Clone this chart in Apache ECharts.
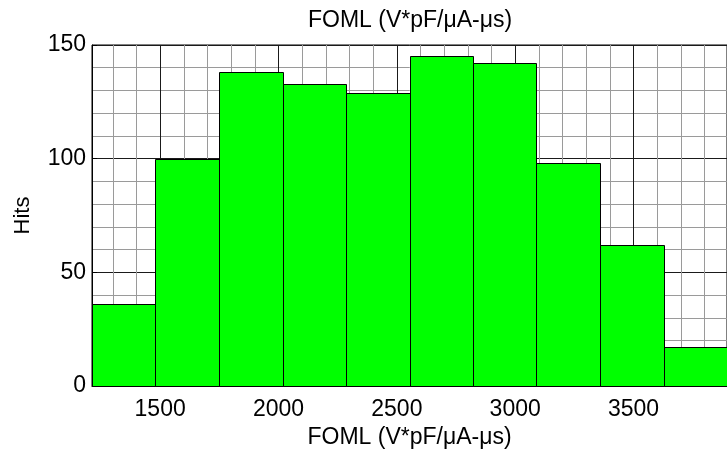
<!DOCTYPE html>
<html>
<head>
<meta charset="utf-8">
<script src="https://cdn.jsdelivr.net/npm/echarts@6/dist/echarts.min.js"></script>
<style>
  html, body { margin: 0; padding: 0; background: #fff; }
  #chart { width: 727px; height: 454px; }
</style>
</head>
<body>
<div id="chart"></div>
<script>
// Histogram bins: lower/upper edges and hit counts
const binEdges = [1212, 1480, 1749, 2017, 2285, 2554, 2822, 3090, 3358, 3627, 3895];
const hits = [36, 100, 138, 133, 129, 145, 142, 98, 62, 17];

// Axis ticks and grid positions
const xTickLabels = [1500, 2000, 2500, 3000, 3500];
const xMinorGrid = [1300, 1400, 1600, 1700, 1800, 1900, 2100, 2200, 2300, 2400,
                    2600, 2700, 2800, 2900, 3100, 3200, 3300, 3400, 3600, 3700, 3800];
const yTickLabels = [0, 50, 100, 150];

const axisTitle = 'FOML (V*pF/\u03bcA-\u03bcs)';
const FONT = 'Liberation Sans, Arial, sans-serif';

const binData = hits.map((h, i) => [binEdges[i], binEdges[i + 1], h]);

const gridLines = []
  .concat(xMinorGrid.map(v => ({ xAxis: v, lineStyle: { color: '#9a9a9a', width: 1, type: 'solid' } })))
  .concat(xTickLabels.map(v => ({ xAxis: v, lineStyle: { color: '#1a1a1a', width: 1, type: 'solid' } })));

const chart = echarts.init(document.getElementById('chart'), null, { renderer: 'canvas' });

chart.setOption({
  animation: false,
  backgroundColor: '#ffffff',
  graphic: [{
    type: 'text',
    x: 410, y: 21,
    style: {
      text: axisTitle, align: 'center', verticalAlign: 'middle',
      font: '23px ' + FONT, fill: '#000'
    }
  }],
  grid: {
    left: 92, top: 45, width: 641, height: 343,
    show: true, backgroundColor: '#fff', borderColor: '#000', borderWidth: 1
  },
  xAxis: {
    type: 'value',
    min: binEdges[0],
    max: binEdges[binEdges.length - 1],
    name: axisTitle,
    nameLocation: 'middle',
    nameGap: 38,
    nameTextStyle: { fontSize: 23, fontFamily: FONT, color: '#000' },
    axisLine: { show: true, onZero: false, lineStyle: { color: '#000', width: 1 } },
    axisTick: { show: true, inside: true, length: 4, customValues: xTickLabels, lineStyle: { color: '#000' } },
    axisLabel: {
      customValues: xTickLabels, margin: 12,
      formatter: v => String(v),
      fontSize: 23, fontFamily: FONT, color: '#000'
    },
    splitLine: { show: false }
  },
  yAxis: {
    type: 'value',
    min: 0, max: 150, interval: 50,
    name: 'Hits',
    nameLocation: 'middle',
    nameRotate: 90,
    nameGap: 58,
    nameTextStyle: { fontSize: 22, fontFamily: FONT, color: '#000' },
    axisLine: { show: true, lineStyle: { color: '#000', width: 1 } },
    axisTick: { show: true, inside: true, length: 5, lineStyle: { color: '#000' } },
    axisLabel: {
      margin: 6, fontSize: 23, fontFamily: FONT, color: '#000',
      formatter: v => (yTickLabels.indexOf(v) >= 0 ? String(v) : '')
    },
    splitLine: { show: true, lineStyle: { color: '#1a1a1a', width: 1 } },
    minorTick: { show: false, splitNumber: 5 },
    minorSplitLine: { show: true, lineStyle: { color: '#9a9a9a', width: 1 } }
  },
  series: [{
    type: 'custom',
    name: 'Hits',
    z: 3,
    data: binData,
    encode: { x: [0, 1], y: 2 },
    renderItem: function (params, api) {
      const p0 = api.coord([api.value(0), api.value(2)]);
      const p1 = api.coord([api.value(1), 0]);
      const x = Math.round(p0[0]) + 0.5;
      const y = Math.round(p0[1]) + 0.5;
      const w = Math.round(p1[0]) - Math.round(p0[0]);
      const h = Math.round(p1[1]) - Math.round(p0[1]);
      return {
        type: 'rect',
        shape: { x: x, y: y, width: w, height: h },
        style: { fill: '#00ff00', stroke: '#000', lineWidth: 1 }
      };
    },
    markLine: {
      silent: true,
      z: 1,
      symbol: ['none', 'none'],
      label: { show: false },
      emphasis: { disabled: true },
      data: gridLines
    }
  }]
});
</script>
</body>
</html>
